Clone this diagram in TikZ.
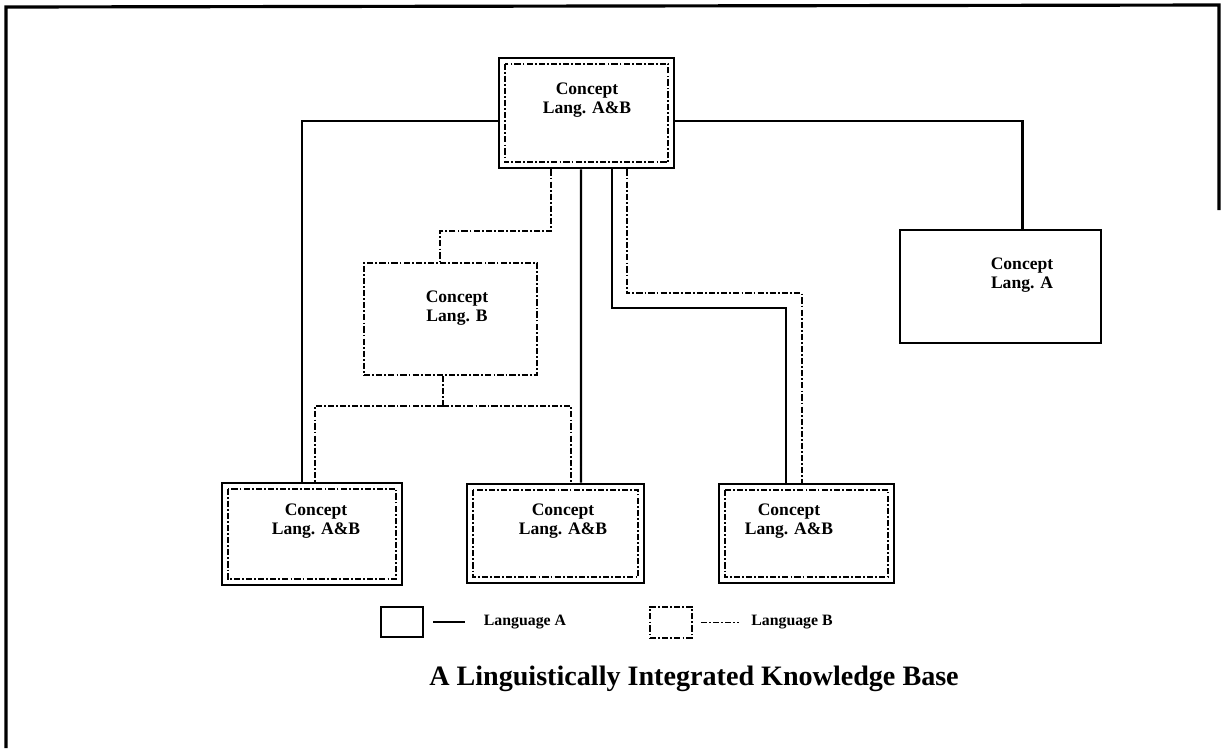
\documentclass[tikz,border=0pt]{standalone}
\usepackage{fontspec}
\setmainfont{Liberation Serif}
\usetikzlibrary{calc}

\tikzset{
	langA/.style={line width=1.2pt},
	langB/.style={line width=1.1pt, dash pattern=on 3.5pt off 1.2pt on 1pt off 1.2pt},
	concept/.style={draw, line width=1.6pt, inner sep=0pt},
	ctext/.style={font=\bfseries\fontsize{10}{11}\selectfont, align=center, inner sep=0pt},
	keytext/.style={font=\bfseries\fontsize{9}{10}\selectfont, inner sep=0pt},
}

\begin{document}
\begin{tikzpicture}[x=0.02cm, y=-0.02cm]
\useasboundingbox (0,0) rectangle (1225,748);

% frame
\draw[line width=1.8pt] (6,748) -- (6,7) -- (1219,5) -- (1219,210);

% concepts shared by both languages
\node[concept, minimum width=3.5cm, minimum height=2.2cm] (ab-top) at (586.5,113) {};
\node[concept, minimum width=3.6cm, minimum height=2.04cm] (ab-left) at (312,534) {};
\node[concept, minimum width=3.54cm, minimum height=1.98cm] (ab-mid) at (555.5,533.5) {};
\node[concept, minimum width=3.5cm, minimum height=1.98cm] (ab-right) at (806.5,533.5) {};
\foreach \n in {ab-top,ab-left,ab-mid,ab-right}
	\draw[langB] ([shift={(7,7)}]\n.north west) rectangle ([shift={(-7,-7)}]\n.south east);

% single language concepts
\node[concept, minimum width=4.02cm, minimum height=2.26cm] (a-only) at (1000.5,286.5) {};
\node[concept, langB, minimum width=3.46cm, minimum height=2.24cm] (b-only) at (450.5,319) {};

% labels
\node[ctext] (ab-top-txt) at (587,100) {Concept\\Lang. A\&B};
\node[ctext] (ab-left-txt) at (316,521) {Concept\\Lang. A\&B};
\node[ctext] (ab-mid-txt) at (563,521) {Concept\\Lang. A\&B};
\node[ctext] (ab-right-txt) at (789,521) {Concept\\Lang. A\&B};
\node[ctext] (a-only-txt) at (1022,275) {Concept\\Lang. A};
\node[ctext] (b-only-txt) at (457,308) {Concept\\Lang. B};

% language A links
\draw[langA] ($(ab-top.west)+(0,8)$) -| ($(ab-left.north)+(-10,0)$);
\draw[langA] ($(ab-top.east)+(0,8)$) -| ($(a-only.north)+(22,0)$);
\draw[langA] ($(ab-top.south)+(-5.5,0)$) -- ($(ab-mid.north)+(25.5,0)$);
\draw[langA] ($(ab-top.south)+(25.5,0)$) -- ++(0,139) -| ($(ab-right.north)+(-20.5,0)$);

% language B links
\draw[langB] ($(ab-top.south)+(-35.5,0)$) -- ++(0,62) -| ($(b-only.north)+(-10.5,0)$);
\draw[langB] ($(b-only.south)+(-7.5,0)$) -- ++(0,30) coordinate (b-split);
\draw[langB] (b-split) -| ($(ab-left.north)+(3,0)$);
\draw[langB] (b-split) -| ($(ab-mid.north)+(15.5,0)$);
\draw[langB] ($(ab-top.south)+(40.5,0)$) -- ++(0,124) -| ($(ab-right.north)+(-4.5,0)$);

% key
\node[draw, line width=1.4pt, minimum width=0.84cm, minimum height=0.6cm] (key-a) at (402,622) {};
\draw[langA] ($(key-a.east)+(9,0)$) -- ($(key-a.east)+(41,0)$);
\node[keytext] (key-a-txt) at (525,622) {Language A};
\node[draw, langB, minimum width=0.84cm, minimum height=0.62cm] (key-b) at (671,622.5) {};
\draw[langB] ($(key-b.east)+(8,0)$) -- ($(key-b.east)+(46,0)$);
\node[keytext] (key-b-txt) at (792,622) {Language B};

\node[font=\bfseries\fontsize{16}{19}\selectfont] (title) at (694,679) {A Linguistically Integrated Knowledge Base};

\end{tikzpicture}
\end{document}
